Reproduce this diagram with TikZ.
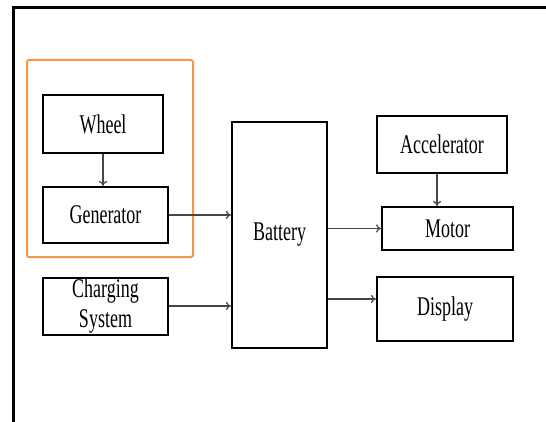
\documentclass[tikz,border=0pt]{standalone}
\usepackage{fontspec}
\usepackage{graphicx}
\setmainfont{Liberation Serif}
\usetikzlibrary{arrows.meta}

\definecolor{boxorange}{RGB}{247,150,70}
\definecolor{arrowgray}{RGB}{70,70,70}

% text in the reference is stretched upward
\newcommand{\tall}[1]{\scalebox{1}[1.5]{#1}}

\tikzset{
  blk/.style={draw, line width=2pt, inner sep=0pt, align=center,
    font=\fontsize{18}{30}\selectfont},
  flow/.style={-{To[length=5pt,width=8pt]}, line width=1.2pt, draw=arrowgray}
}

\begin{document}
\begin{tikzpicture}[x=1pt, y=-1pt]
  \useasboundingbox (0,0) rectangle (546,422);

  %% Outer frame (cut at right and bottom)
  \draw[line width=3pt] (13,422) -- (13,8) -- (546,8);

  %% Left group
  \draw[boxorange, line width=2pt, rounded corners=2pt] (27,60) rectangle (193,257);

  \node[blk, minimum width=120pt, minimum height=58pt] (wheel) at (103,124) {\tall{Wheel}};
  \node[blk, minimum width=125pt, minimum height=56pt] (gen) at (105.5,215) {\tall{Generator}};
  \node[blk, minimum width=125pt, minimum height=57pt] (chg) at (105.5,306)
    {\tall{Charging}\\\tall{System}};

  % Battery in the middle
  \node[blk, minimum width=95pt, minimum height=226pt] (batt) at (279.5,235) {\tall{Battery}};

  %% Right side
  \node[blk, minimum width=130pt, minimum height=57pt] (accel) at (442,144.5) {\tall{Accelerator}};
  \node[blk, minimum width=131pt, minimum height=43pt] (motor) at (447.5,228.5) {\tall{Motor}};
  \node[blk, minimum width=136pt, minimum height=64pt] (disp) at (445,309) {\tall{Display}};

  % Arrows
  \coordinate (dy) at (0,299);
  \draw[flow] (wheel.south) -- (wheel.south |- gen.north);
  \draw[flow] (gen.east) -- (gen.east -| batt.west);
  \draw[flow] (chg.east) -- (chg.east -| batt.west);
  \draw[flow] (motor.west -| batt.east) -- (motor.west);
  \draw[flow] (batt.east |- dy) -- (disp.west |- dy);
  \draw[flow] ([xshift=-5pt]accel.south) -- ([xshift=-5pt]accel.south |- motor.north);

\end{tikzpicture}
\end{document}
